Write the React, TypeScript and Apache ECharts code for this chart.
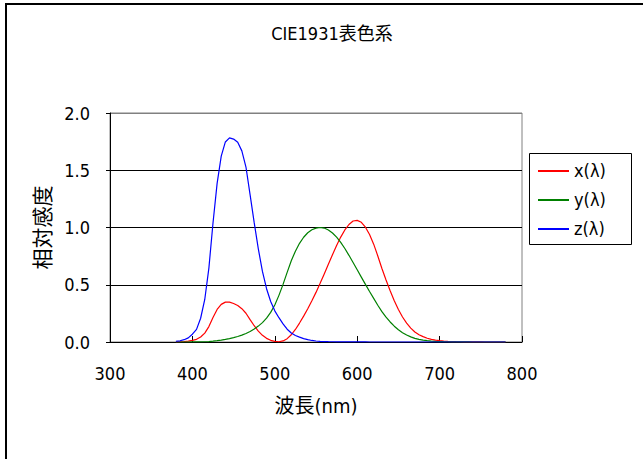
import React, { useEffect, useRef } from "react";
import * as echarts from "echarts";

const wavelengths = [
  380, 385, 390, 395, 400, 405, 410, 415, 420, 425, 430, 435, 440, 445, 450, 455, 460, 465, 470, 475,
  480, 485, 490, 495, 500, 505, 510, 515, 520, 525, 530, 535, 540, 545, 550, 555, 560, 565, 570, 575,
  580, 585, 590, 595, 600, 605, 610, 615, 620, 625, 630, 635, 640, 645, 650, 655, 660, 665, 670, 675,
  680, 685, 690, 695, 700, 705, 710, 715, 720, 725, 730, 735, 740, 745, 750, 755, 760, 765, 770, 775, 780,
];

const xBar = [
  0.0014, 0.0022, 0.0042, 0.0077, 0.0143, 0.0232, 0.0435, 0.0776, 0.1344, 0.2148, 0.2839, 0.3285, 0.3483, 0.3481, 0.3362, 0.3187, 0.2908, 0.2511, 0.1954, 0.1421,
  0.0956, 0.058, 0.032, 0.0147, 0.0049, 0.0024, 0.0093, 0.0291, 0.0633, 0.1096, 0.1655, 0.2257, 0.2904, 0.3597, 0.4334, 0.5121, 0.5945, 0.6784, 0.7621, 0.8425,
  0.9163, 0.9786, 1.0263, 1.0567, 1.0622, 1.0456, 1.0026, 0.9384, 0.8544, 0.7514, 0.6424, 0.5419, 0.4479, 0.3608, 0.2835, 0.2187, 0.1649, 0.1212, 0.0874, 0.0636,
  0.0468, 0.0329, 0.0227, 0.0158, 0.0114, 0.0081, 0.0058, 0.0041, 0.0029, 0.002, 0.0014, 0.001, 0.0007, 0.0005, 0.0003, 0.0002, 0.0002, 0.0001, 0.0001, 0.0001, 0.0,
];

const yBar = [
  0.0, 0.0001, 0.0001, 0.0002, 0.0004, 0.0006, 0.0012, 0.0022, 0.004, 0.0073, 0.0116, 0.0168, 0.023, 0.0298, 0.038, 0.048, 0.06, 0.0739, 0.091, 0.1126,
  0.139, 0.1693, 0.208, 0.2586, 0.323, 0.4073, 0.503, 0.6082, 0.71, 0.7932, 0.862, 0.9149, 0.954, 0.9803, 0.995, 1.0, 0.995, 0.9786, 0.952, 0.9154,
  0.87, 0.8163, 0.757, 0.6949, 0.631, 0.5668, 0.503, 0.4412, 0.381, 0.321, 0.265, 0.217, 0.175, 0.1382, 0.107, 0.0816, 0.061, 0.0446, 0.032, 0.0232,
  0.017, 0.0119, 0.0082, 0.0057, 0.0041, 0.0029, 0.0021, 0.0015, 0.001, 0.0007, 0.0005, 0.0004, 0.0002, 0.0002, 0.0001, 0.0001, 0.0001, 0.0, 0.0, 0.0, 0.0,
];

const zBar = [
  0.0065, 0.0106, 0.0201, 0.0362, 0.0679, 0.1102, 0.2074, 0.3713, 0.6456, 1.0391, 1.3856, 1.623, 1.7471, 1.7826, 1.7721, 1.7441, 1.6692, 1.5281, 1.2876, 1.0419,
  0.813, 0.6162, 0.4652, 0.3533, 0.272, 0.2123, 0.1582, 0.1117, 0.0783, 0.0573, 0.0422, 0.0298, 0.0203, 0.0134, 0.0088, 0.0058, 0.0039, 0.0028, 0.0021, 0.0018,
  0.0017, 0.0014, 0.0011, 0.001, 0.0008, 0.0006, 0.0003, 0.0002, 0.0002, 0.0001, 0.0, 0.0, 0.0, 0.0, 0.0, 0.0, 0.0, 0.0, 0.0, 0.0,
  0.0, 0.0, 0.0, 0.0, 0.0, 0.0, 0.0, 0.0, 0.0, 0.0, 0.0, 0.0, 0.0, 0.0, 0.0, 0.0, 0.0, 0.0, 0.0, 0.0, 0.0,
];

const seriesNames = ["x(λ)", "y(λ)", "z(λ)"];
const seriesColors = ["#FF0000", "#008000", "#0000FF"];
const seriesValues = [xBar, yBar, zBar];

const titleText = "CIE1931表色系";
const xAxisName = "波長(nm)";
const yAxisName = "相対感度";

const FONT = "'Liberation Sans Narrow', 'DejaVu Sans Condensed', 'Roboto Condensed', 'Arial Narrow', 'Noto Sans CJK JP', sans-serif";

export default function App() {
  const ref = useRef<HTMLDivElement>(null);

  useEffect(() => {
    document.body.style.margin = "0";
    if (!ref.current) return;
    const chart = echarts.init(ref.current, undefined, { renderer: "svg" });
    chart.setOption({
      animation: false,
      backgroundColor: "#ffffff",
      title: {
        text: titleText,
        left: 327,
        top: 19,
        textAlign: "center",
        textStyle: { fontFamily: FONT, fontSize: 18, fontWeight: "normal", color: "#000" },
      },
      graphic: [
        {
          type: "rect",
          shape: { x: 6, y: 4, width: 700, height: 500 },
          style: { fill: "none", stroke: "#000", lineWidth: 2 },
          silent: true,
        },
        {
          type: "rect",
          shape: { x: 529.5, y: 153.5, width: 102, height: 91 },
          style: { fill: "#fff", stroke: "#000", lineWidth: 1 },
          silent: true,
          z: 0,
        },
      ],
      legend: {
        orient: "vertical",
        left: 537,
        top: 162,
        padding: 0,
        itemWidth: 31,
        itemHeight: 14,
        itemGap: 11,
        itemStyle: { opacity: 0 },
        textStyle: { fontFamily: FONT, fontSize: 18, color: "#000" },
        data: seriesNames,
        z: 10,
      },
      grid: {
        left: 110,
        top: 113,
        width: 412,
        height: 229,
        show: true,
        borderColor: "#808080",
        borderWidth: 1,
        backgroundColor: "#fff",
      },
      xAxis: {
        type: "value",
        min: 300,
        max: 800,
        interval: 100,
        name: xAxisName,
        nameLocation: "middle",
        nameGap: 54,
        nameTextStyle: { fontFamily: FONT, fontSize: 20, color: "#000", verticalAlign: "top" },
        axisLine: { show: true, lineStyle: { color: "#000", width: 1 } },
        axisTick: { show: true, inside: true, length: 6, lineStyle: { color: "#000" } },
        axisLabel: { margin: 22, fontFamily: FONT, fontSize: 18, color: "#000" },
        splitLine: { show: false },
      },
      yAxis: {
        type: "value",
        min: 0,
        max: 2,
        interval: 0.5,
        name: yAxisName,
        nameLocation: "middle",
        nameGap: 55,
        nameRotate: 90,
        nameTextStyle: { fontFamily: FONT, fontSize: 21, color: "#000" },
        axisLine: { show: true, lineStyle: { color: "#000", width: 1 } },
        axisTick: { show: true, length: 4, lineStyle: { color: "#000" } },
        axisLabel: {
          margin: 20,
          fontFamily: FONT,
          fontSize: 18,
          color: "#000",
          formatter: (v: number) => v.toFixed(1),
        },
        splitLine: {
          show: true,
          lineStyle: { color: ["#000", "#000", "#000", "#000", "#808080"], width: 1 },
        },
      },
      series: seriesNames.map((name, i) => ({
        name,
        type: "line",
        symbol: "none",
        color: seriesColors[i],
        lineStyle: { color: seriesColors[i], width: 1.2 },
        data: wavelengths.map((w, j) => [w, seriesValues[i][j]]),
        z: 2 + i,
      })),
    });
    return () => chart.dispose();
  }, []);

  return <div ref={ref} style={{ width: 643, height: 459 }} />;
}
